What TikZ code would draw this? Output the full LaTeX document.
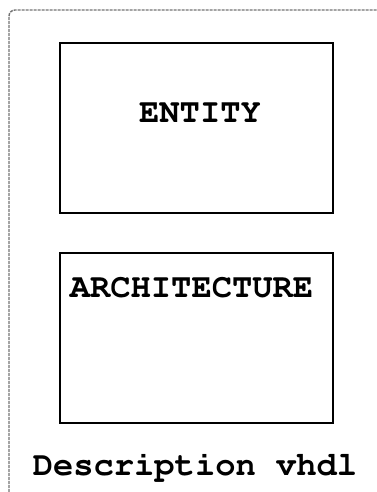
\documentclass[tikz,border=0pt]{standalone}
\usepackage[T1]{fontenc}
\usepackage{courier}
\begin{document}
\begin{tikzpicture}[x=1pt,y=-1pt,
  block/.style={draw=black,line width=2pt,minimum width=273pt,minimum height=170pt,inner sep=0pt},
  lbl/.style={font=\ttfamily\bfseries\fontsize{33.8}{40}\selectfont,inner sep=0pt,anchor=center},
  frame/.style={draw=black!55,line width=1.4pt,dash pattern=on 3pt off 1pt,rounded corners=6pt}]
\useasboundingbox (0,0) rectangle (377,492);
\coordinate (fbl) at (9,492);
\coordinate (ftl) at (9,10);
\coordinate (ftr) at (377,10);
\draw[frame] (fbl) -- (ftl) -- (ftr);
\node[block] (entity) at (196.5,128) {};
\node[block] (arch) at (196.5,338) {};
\node[lbl] (tentity) at (200,113) {ENTITY};
\node[lbl] (tarch) at (191.5,288) {ARCHITECTURE};
\node[lbl] (desc) at (195,467) {Description vhdl};
\end{tikzpicture}
\end{document}
